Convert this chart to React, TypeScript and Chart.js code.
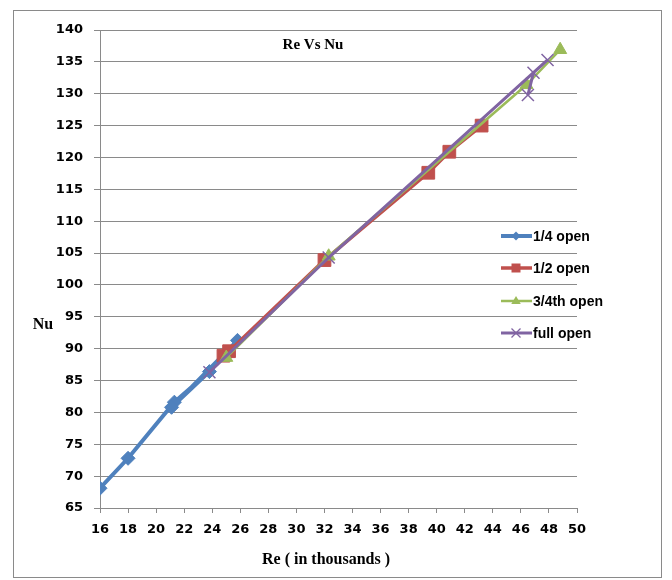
import React, { useEffect, useRef } from "react";
import { Chart, registerables } from "chart.js";

Chart.register(...registerables);

// ---- data ----
const reBlue = [16.0, 18.0, 21.3, 23.8, 21.1, 25.8];
const nuBlue = [68.1, 72.8, 81.6, 86.4, 80.8, 91.3];
const reRed = [24.8, 25.2, 32.0, 39.4, 40.9, 43.2];
const nuRed = [88.9, 89.6, 103.9, 117.6, 120.9, 125.0];
const reGreen = [25.0, 32.3, 46.4, 48.8];
const nuGreen = [88.6, 104.5, 131.4, 136.9];
const rePurple = [23.8, 32.3, 47.9, 46.9, 46.5];
const nuPurple = [86.3, 104.3, 135.3, 133.3, 129.8];

const seriesNames = ["1/4 open", "1/2 open", "3/4th open", "full open"];
const chartTitle = "Re Vs Nu";
const xTitle = "Re ( in thousands )";
const yTitle = "Nu";
const xMin = 16, xMax = 50, xStep = 2;
const yMin = 65, yMax = 140, yStep = 5;

const COLORS = ["#4F81BD", "#C0504D", "#9BBB59", "#8064A2"];

function pts(xs: number[], ys: number[]) {
  return xs.map((x, i) => ({ x, y: ys[i] }));
}

function drawMarker(ctx: CanvasRenderingContext2D, style: string, x: number, y: number, r: number, color: string) {
  ctx.save();
  ctx.fillStyle = color;
  ctx.strokeStyle = color;
  ctx.beginPath();
  if (style === "rectRot") {
    ctx.moveTo(x, y - r);
    ctx.lineTo(x + r, y);
    ctx.lineTo(x, y + r);
    ctx.lineTo(x - r, y);
    ctx.closePath();
    ctx.fill();
  } else if (style === "rect") {
    ctx.rect(x - r, y - r, 2 * r, 2 * r);
    ctx.fill();
  } else if (style === "triangle") {
    ctx.moveTo(x, y - r);
    ctx.lineTo(x + r * 0.95, y + r * 0.6);
    ctx.lineTo(x - r * 0.95, y + r * 0.6);
    ctx.closePath();
    ctx.fill();
  } else {
    ctx.lineWidth = 1.3;
    ctx.moveTo(x - r, y - r);
    ctx.lineTo(x + r, y + r);
    ctx.moveTo(x + r, y - r);
    ctx.lineTo(x - r, y + r);
    ctx.stroke();
  }
  ctx.restore();
}

const decorPlugin = {
  id: "decor",
  beforeDraw(chart: any) {
    const ctx = chart.ctx;
    ctx.save();
    ctx.fillStyle = "#ffffff";
    ctx.fillRect(0, 0, chart.width, chart.height);
    ctx.restore();
  },
  afterDraw(chart: any) {
    const ctx = chart.ctx;
    ctx.save();
    // outer border
    ctx.strokeStyle = "#8a8a8a";
    ctx.lineWidth = 1;
    ctx.strokeRect(13.5, 10.5, 648, 567);
    // titles
    ctx.fillStyle = "#000";
    ctx.textAlign = "center";
    ctx.textBaseline = "middle";
    ctx.font = "bold 15px 'Liberation Serif', 'Times New Roman', serif";
    ctx.fillText(chartTitle, 313, 45);
    ctx.font = "bold 16px 'Liberation Serif', 'Times New Roman', serif";
    ctx.fillText(yTitle, 43, 325);
    ctx.fillText(xTitle, 326, 560);
    // legend
    const ys = [236, 268, 301, 333];
    const legendSizes = [4.5, 4.5, 5, 4.5];
    chart.data.datasets.forEach((ds: any, i: number) => {
      const y = ys[i];
      ctx.strokeStyle = ds.borderColor;
      ctx.lineWidth = ds.borderWidth;
      ctx.beginPath();
      ctx.moveTo(501, y);
      ctx.lineTo(532, y);
      ctx.stroke();
      drawMarker(ctx, ds.pointStyle, 516, y, legendSizes[i], ds.borderColor);
      ctx.fillStyle = "#000";
      ctx.textAlign = "left";
      ctx.font = "bold 14px 'Liberation Sans', Arial, sans-serif";
      ctx.fillText(seriesNames[i], 533, y + 1);
    });
    ctx.restore();
  },
};

export default function App() {
  const ref = useRef<HTMLCanvasElement>(null);
  useEffect(() => {
    document.body.style.margin = "0";
    const tickFont = { family: "'DejaVu Sans', sans-serif", size: 13, weight: "bold" as const };
    const mk = (i: number, data: any[], style: string, radius: number, lw: number) => ({
      label: seriesNames[i],
      data,
      showLine: true,
      borderColor: COLORS[i],
      backgroundColor: COLORS[i],
      pointBackgroundColor: COLORS[i],
      pointBorderColor: COLORS[i],
      pointBorderWidth: style === "crossRot" ? 1.5 : 1,
      borderWidth: lw,
      pointStyle: style,
      pointRadius: radius,
      pointHoverRadius: radius,
      order: 3 - i,
    });
    const chart = new Chart(ref.current!, {
      type: "scatter",
      data: {
        datasets: [
          mk(0, pts(reBlue, nuBlue), "rectRot", 7, 4),
          mk(1, pts(reRed, nuRed), "rect", 9, 3.5),
          mk(2, pts(reGreen, nuGreen), "triangle", 7.5, 2.5),
          mk(3, pts(rePurple, nuPurple), "crossRot", 8.5, 3),
        ] as any,
      },
      options: {
        animation: false,
        responsive: false,
        devicePixelRatio: 1,
        layout: { padding: { left: 0, right: 95, top: 30, bottom: 0 } },
        plugins: { legend: { display: false }, title: { display: false }, tooltip: { enabled: false } },
        scales: {
          x: {
            type: "linear",
            min: xMin,
            max: xMax,
            afterFit: (s: any) => { s.height = 72; },
            ticks: { stepSize: xStep, autoSkip: false, maxRotation: 0, color: "#000", font: tickFont, padding: 9 },
            grid: { display: true, drawOnChartArea: false, drawTicks: true, tickLength: 5, color: "#8a8a8a", tickColor: "#8a8a8a" },
            border: { display: true, color: "#8a8a8a" },
          },
          y: {
            type: "linear",
            min: yMin,
            max: yMax,
            afterFit: (s: any) => { s.width = 100; },
            ticks: { stepSize: yStep, autoSkip: false, color: "#000", font: tickFont, padding: 11 },
            grid: { display: true, drawOnChartArea: true, drawTicks: true, tickLength: 6, color: "#8a8a8a", tickColor: "#8a8a8a" },
            border: { display: true, color: "#8a8a8a" },
          },
        },
      },
      plugins: [decorPlugin],
    } as any);
    return () => chart.destroy();
  }, []);
  return (
    <div style={{ position: "absolute", left: 0, top: 0, width: 672, height: 580, background: "#fff" }}>
      <canvas ref={ref} width={672} height={580} style={{ width: 672, height: 580, display: "block" }} />
    </div>
  );
}
